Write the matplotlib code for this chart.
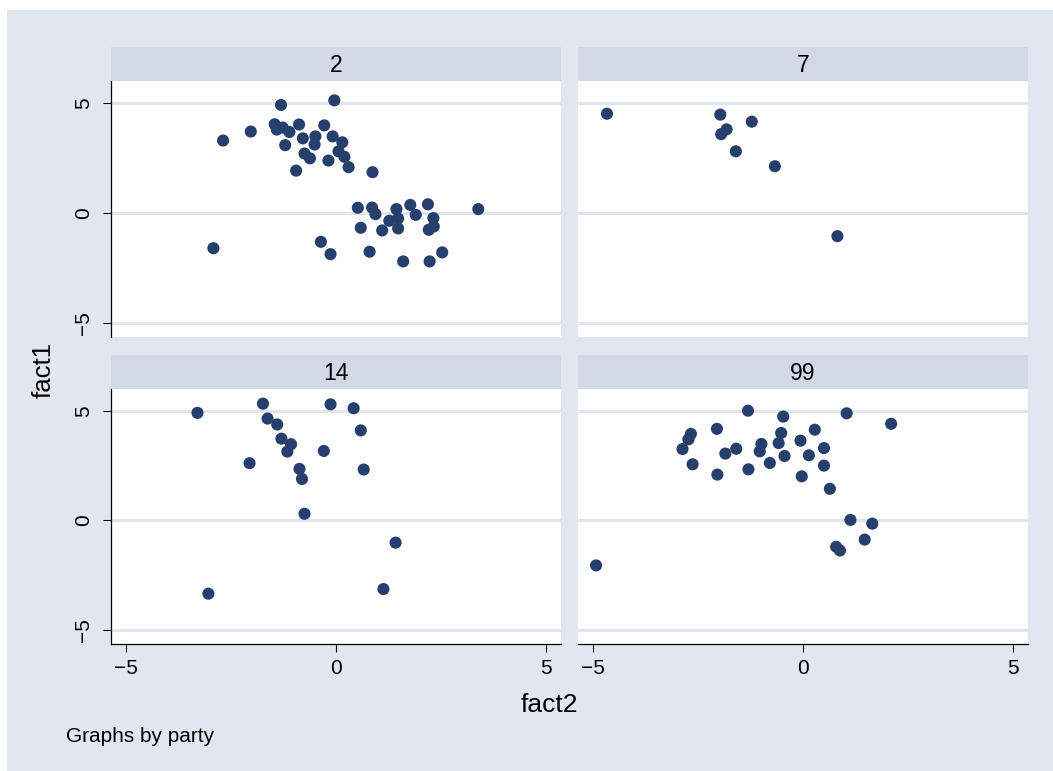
import matplotlib
matplotlib.use("Agg")
import matplotlib.pyplot as plt
from matplotlib.patches import Rectangle

plt.rcParams['font.family'] = ['Liberation Sans', 'DejaVu Sans']

# party 2
p2_fact2 = [-1.31, -0.04, -2.69, -2.03, -1.46, -1.41, -1.27, -1.11, -0.88, -1.21,
            -0.79, -0.49, -0.51, -0.28, -0.08, 0.15, -0.75, -0.62, 0.06, 0.20,
            -0.18, 0.30, -0.95, 0.87, 0.52, 0.86, 0.94, 1.44, 1.77, 2.19,
            3.39, 1.90, 2.32, 1.27, 1.48, 0.59, 1.10, 1.48, 2.21, 2.33,
            -2.92, -0.36, -0.13, 0.80, 1.60, 2.23, 2.53]
p2_fact1 = [4.91, 5.12, 3.29, 3.70, 4.03, 3.79, 3.88, 3.68, 4.02, 3.08,
            3.39, 3.48, 3.11, 3.98, 3.48, 3.21, 2.70, 2.48, 2.80, 2.55,
            2.38, 2.08, 1.92, 1.85, 0.23, 0.24, -0.06, 0.17, 0.36, 0.39,
            0.17, -0.09, -0.24, -0.36, -0.26, -0.68, -0.80, -0.71, -0.77, -0.62,
            -1.61, -1.32, -1.88, -1.77, -2.21, -2.21, -1.80]

# party 7
p7_fact2 = [-4.67, -1.97, -1.22, -1.82, -1.95, -1.60, -0.67, 0.82]
p7_fact1 = [4.51, 4.47, 4.15, 3.80, 3.58, 2.80, 2.12, -1.06]

# party 14
p14_fact2 = [-3.30, -1.74, -0.13, 0.42, -1.63, -1.40, 0.59, -1.30, -1.07, -1.16,
             -0.29, -2.06, -0.87, 0.66, -0.81, -0.75, 1.42, 1.13, -3.04]
p14_fact1 = [4.91, 5.33, 5.30, 5.12, 4.65, 4.38, 4.11, 3.73, 3.48, 3.14,
             3.17, 2.61, 2.35, 2.32, 1.89, 0.30, -1.02, -3.14, -3.35]

# party 99
p99_fact2 = [-4.93, -2.87, -2.73, -2.67, -2.63, -2.05, -2.04, -1.85, -1.59, -1.31,
             -1.30, -0.99, -1.03, -0.79, -0.52, -0.58, -0.47, -0.44, -0.06, -0.03,
             0.14, 0.28, 0.50, 0.50, 0.64, 1.04, 2.10, 1.13, 1.65, 1.47,
             0.79, 0.88]
p99_fact1 = [-2.06, 3.26, 3.70, 3.95, 2.56, 4.18, 2.09, 3.05, 3.27, 5.01,
             2.33, 3.49, 3.15, 2.62, 3.99, 3.53, 4.74, 2.94, 3.64, 2.01,
             2.97, 4.14, 3.30, 2.50, 1.44, 4.89, 4.41, 0.02, -0.15, -0.88,
             -1.21, -1.38]

panels = ["2", "7", "14", "99"]
xs = [p2_fact2, p7_fact2, p14_fact2, p99_fact2]
ys = [p2_fact1, p7_fact1, p14_fact1, p99_fact1]
ticks = [-5, 0, 5]

W, H = 1053, 771
bg = "#e1e6f0"
strip_c = "#d2d9e5"
grid_c = "#dfe4ef"
navy = "#263f6d"


def rect(x0, y0, x1, y1):
    return [x0 / W, 1 - y1 / H, (x1 - x0) / W, (y1 - y0) / H]


fig = plt.figure(figsize=(W / 100, H / 100), dpi=100)
fig.patches.append(Rectangle((7 / W, 0), 1, 1 - 10 / H, transform=fig.transFigure,
                             facecolor=bg, edgecolor="none", zorder=-10))

cols = [(111, 561), (578, 1028)]
rows = [(47, 81, 337), (355, 389, 644)]

for i, name in enumerate(panels):
    r, c = divmod(i, 2)
    x0, x1 = cols[c]
    s0, p0, p1 = rows[r]

    # strip with the party label
    sax = fig.add_axes(rect(x0, s0, x1, p0))
    sax.set_facecolor(strip_c)
    sax.set_xticks([])
    sax.set_yticks([])
    for sp in sax.spines.values():
        sp.set_visible(False)
    sax.text(0.5, 0.47, name, ha="center", va="center", fontsize=16.5,
             transform=sax.transAxes)

    ax = fig.add_axes(rect(x0, p0, x1, p1))
    ax.set_facecolor("white")
    ax.scatter(xs[i], ys[i], s=76, color=navy, edgecolors="none", zorder=3)
    ax.set_xlim(-5.36, 5.36)
    ax.set_ylim(-5.65, 6.0)
    ax.set_xticks(ticks)
    ax.set_yticks(ticks)
    for t in ticks:
        ax.axhline(t, color=grid_c, lw=2.2, zorder=1)
    for sp in ax.spines.values():
        sp.set_visible(False)
    ax.tick_params(length=6, width=0.8, color="black", labelsize=15)
    if c == 0:
        ax.spines["left"].set_visible(True)
        ax.spines["left"].set_linewidth(0.9)
        ax.set_yticklabels([str(t).replace("-", "\u2212") for t in ticks],
                           rotation=90, va="center")
        ax.tick_params(axis="y", pad=7)
    else:
        ax.tick_params(axis="y", left=False, labelleft=False)
    if r == 1:
        ax.spines["bottom"].set_visible(True)
        ax.spines["bottom"].set_linewidth(0.9)
        ax.tick_params(axis="x", pad=5)
    else:
        ax.tick_params(axis="x", bottom=False, labelbottom=False)

fig.text(43.5 / W, 1 - 369.5 / H, "fact1", rotation=90, ha="center", va="center",
         fontsize=18.5)
fig.text(549 / W, 1 - 705 / H, "fact2", ha="center", va="center", fontsize=19)
fig.text(66 / W, 1 - 737 / H, "Graphs by party", ha="left", va="center", fontsize=15)

fig.savefig("out.png", dpi=100)
